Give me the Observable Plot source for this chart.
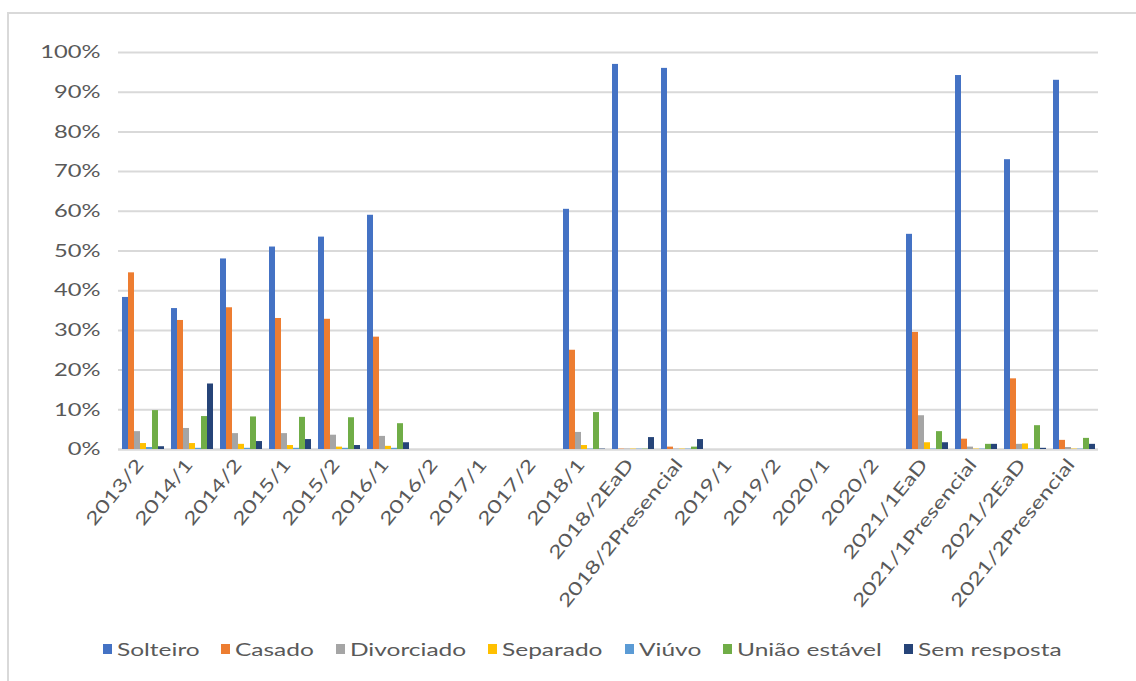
<!DOCTYPE html>
<html>
<head>
<meta charset="utf-8">
<script src="https://cdn.jsdelivr.net/npm/d3@7"></script>
<script src="https://cdn.jsdelivr.net/npm/@observablehq/plot@0.6"></script>
<style>
  html, body { margin: 0; padding: 0; background: #fff; }
  body { width: 1136px; height: 681px; position: relative; overflow: hidden; font-family: Lato, "Open Sans", sans-serif; }
  #frame { position: absolute; left: 7px; top: 12px; width: 1300px; height: 900px; border: 2px solid #d9d9d9; box-sizing: border-box; }
  #chart { position: absolute; left: 0; top: 0; }
  #legend { position: absolute; left: 0; top: 638px; width: 1136px; display: flex; justify-content: center; font-size: 18px; color: #595959; padding-left: 28px; box-sizing: border-box; white-space: nowrap; }
  .item { display: flex; align-items: center; margin-right: 22px; }
  .item:last-child { margin-right: 0; }
  .sw { width: 9px; height: 10px; margin-right: 5px; flex: none; }
  .tw { display: inline-block; overflow: visible; }
  .tx { display: inline-block; transform: scaleX(1.36); transform-origin: left center; }
</style>
</head>
<body>
<div id="frame"></div>
<div id="chart"></div>
<div id="legend"></div>
<script>
const categories = ["2013/2","2014/1","2014/2","2015/1","2015/2","2016/1","2016/2","2017/1","2017/2","2018/1","2018/2EaD","2018/2Presencial","2019/1","2019/2","2020/1","2020/2","2021/1EaD","2021/1Presencial","2021/2EaD","2021/2Presencial"];
const seriesNames = ["Solteiro","Casado","Divorciado","Separado","Viúvo","União estável","Sem resposta"];
const seriesColors = ["#4472C4","#ED7D31","#A5A5A5","#FFC000","#5B9BD5","#70AD47","#264478"];
// values in percent, per series, aligned with categories (null = no data)
const solteiro    = [38.3, 35.5, 48.0, 51.0, 53.5, 59.0, null, null, null, 60.5, 97.0, 96.0, null, null, null, null, 54.2, 94.2, 73.0, 93.0];
const casado      = [44.5, 32.5, 35.7, 33.0, 32.8, 28.3, null, null, null, 25.0, 0.1, 0.6, null, null, null, null, 29.5, 2.6, 17.8, 2.3];
const divorciado  = [4.5, 5.3, 4.0, 4.0, 3.6, 3.3, null, null, null, 4.3, 0.1, 0.1, null, null, null, null, 8.5, 0.6, 1.3, 0.5];
const separado    = [1.5, 1.5, 1.3, 1.0, 0.6, 0.8, null, null, null, 1.0, 0.1, 0.1, null, null, null, null, 1.7, 0.1, 1.4, 0.1];
const viuvo       = [0.5, 0.3, 0.3, 0.3, 0.3, 0.3, null, null, null, 0.1, 0.1, 0.1, null, null, null, null, 0.1, 0.1, 0.1, 0.1];
const uniao       = [9.8, 8.3, 8.2, 8.1, 8.0, 6.5, null, null, null, 9.3, 0.1, 0.6, null, null, null, null, 4.5, 1.3, 6.0, 2.8];
const semResposta = [0.7, 16.5, 2.0, 2.5, 1.0, 1.7, null, null, null, 0.1, 3.0, 2.5, null, null, null, null, 1.7, 1.3, 0.3, 1.3];
const yTicks = [0, 10, 20, 30, 40, 50, 60, 70, 80, 90, 100];

const seriesValues = [solteiro, casado, divorciado, separado, viuvo, uniao, semResposta];
const data = [];
categories.forEach((c, i) => {
  seriesNames.forEach((s, j) => {
    const v = seriesValues[j][i];
    if (v != null) data.push({category: c, series: s, value: v});
  });
});

const STRETCH = 1.32;

const chart = Plot.plot({
  width: 1136,
  height: 620,
  marginLeft: 115,
  marginRight: 36,
  marginTop: 52,
  marginBottom: 171,
  style: { fontFamily: "Lato, 'Open Sans', sans-serif", fontSize: "18px", color: "#595959", background: "transparent" },
  fx: { domain: categories, padding: 0, label: null, tickSize: 0, tickPadding: 9, tickRotate: -45, axis: "bottom" },
  x: { domain: seriesNames, axis: null, paddingInner: 0.08, paddingOuter: 0.6 },
  y: { domain: [0, 100], ticks: yTicks, tickFormat: d => d + "%", label: null, tickSize: 0, tickPadding: 18 },
  color: { domain: seriesNames, range: seriesColors },
  marks: [
    Plot.ruleY(yTicks, { stroke: "#d9d9d9", strokeWidth: 2 }),
    // baseline per category keeps every category facet present (including ones without data)
    Plot.ruleY(categories, { fx: d => d, y: () => 0, stroke: "#d9d9d9", strokeWidth: 2 }),
    Plot.barY(data, { x: "series", y: "value", fill: "series", fx: "category" })
  ]
});
document.getElementById("chart").appendChild(chart);

// Stretch text glyphs horizontally like the reference rendering
d3.select(chart).selectAll("text").each(function() {
  const t = d3.select(this);
  t.attr("fill", "#595959");
  let x = parseFloat(t.attr("x"));
  const xs = t.attr("x") || "";
  if (!isFinite(x) || /em/.test(xs)) x = 0;
  const tr = t.attr("transform") || "";
  const rotated = /rotate/.test(tr);
  const extra = rotated
    ? ` translate(${x - 4},0) rotate(-6) scale(${STRETCH},1) translate(${-x},0)`
    : ` translate(${x},0) scale(${STRETCH},1) translate(${-x},0)`;
  t.attr("transform", (tr + extra).trim());
});

const legend = document.getElementById("legend");
seriesNames.forEach((s, j) => {
  const it = document.createElement("div");
  it.className = "item";
  const sw = document.createElement("div");
  sw.className = "sw";
  sw.style.background = seriesColors[j];
  const tw = document.createElement("span");
  tw.className = "tw";
  const tx = document.createElement("span");
  tx.className = "tx";
  tx.textContent = s;
  tw.appendChild(tx);
  it.appendChild(sw); it.appendChild(tw);
  legend.appendChild(it);
  tw.style.width = tx.getBoundingClientRect().width + "px";
});
</script>
</body>
</html>
